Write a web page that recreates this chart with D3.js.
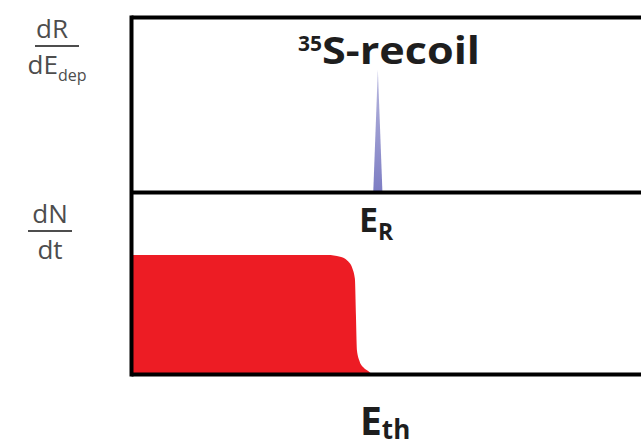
<!DOCTYPE html>
<html lang="en">
<head>
    <meta charset="UTF-8">
    <title>35S recoil spectrum</title>
    <script src="https://d3js.org/d3.v7.min.js"></script>
    <style>
        body { margin: 0; background: #fff; }
        .frame path { stroke: #000; stroke-width: 4; }
        .frac { font-family: "Open Sans", sans-serif; fill: #4d4d4d; }
        .lbl { font-family: "Open Sans", sans-serif; font-weight: bold; fill: #1e1e1e; }
    </style>
</head>
<body>
    <div id="chart"></div>

    <script>
        // energy axis runs 0..100 (arbitrary units)
        var eDomain = [0, 100];

        // recoil line (top panel): energy, dR/dE
        var spikeE = [47.5, 48.4, 49.3];
        var spikeR = [0, 0.70, 0];

        // threshold scan (bottom panel): threshold energy, dN/dt
        var scanE = [0, 38.5, 41.0, 42.5, 43.4, 43.9, 44.1, 44.3, 44.8, 45.6, 46.5, 47.2];
        var scanN = [1.0, 1.0, 0.985, 0.95, 0.89, 0.80, 0.50, 0.20, 0.11, 0.055, 0.025, 0];

        var width = 641, height = 448;
        var left = 131, right = 641;
        var topY = 17, midY = 192, botY = 374;

        var svg = d3.select("#chart").append("svg")
                    .attr("width", width)
                    .attr("height", height);

        var x = d3.scaleLinear().domain(eDomain).range([left, right]);
        var yTop = d3.scaleLinear().domain([0, 1]).range([midY, topY]);
        var yBot = d3.scaleLinear().domain([0, 1.53]).range([botY, midY]);

        // gradient for the spike
        var grad = svg.append("defs").append("linearGradient")
                      .attr("id", "spikeGrad")
                      .attr("x1", 0).attr("y1", 1).attr("x2", 0).attr("y2", 0);
        grad.append("stop").attr("offset", "0%").attr("stop-color", "#7d7dc3");
        grad.append("stop").attr("offset", "100%").attr("stop-color", "#b9b9df");

        var scan = scanE.map(function(d, i) { return [d, scanN[i]]; });
        svg.append("path")
           .datum(scan)
           .attr("fill", "#ed1c24")
           .attr("d", d3.area()
                .x(function(d) { return x(d[0]); })
                .y0(yBot(0))
                .y1(function(d) { return yBot(d[1]); })
                .curve(d3.curveMonotoneX));

        var spike = spikeE.map(function(d, i) { return [d, spikeR[i]]; });
        svg.append("path")
           .datum(spike)
           .attr("fill", "url(#spikeGrad)")
           .attr("d", d3.area()
                .x(function(d) { return x(d[0]); })
                .y0(yTop(0))
                .y1(function(d) { return yTop(d[1]); }));

        // frame: axes without ticks
        svg.append("g").attr("class", "frame")
           .attr("transform", "translate(0," + topY + ")")
           .call(d3.axisTop(x).ticks(0).tickSizeOuter(0));
        svg.append("g").attr("class", "frame")
           .attr("transform", "translate(0," + midY + ")")
           .call(d3.axisBottom(x).ticks(0).tickSizeOuter(0));
        svg.append("g").attr("class", "frame")
           .attr("transform", "translate(0," + botY + ")")
           .call(d3.axisBottom(x).ticks(0).tickSizeOuter(0));
        svg.append("g").attr("class", "frame")
           .attr("transform", "translate(" + left + ",0)")
           .call(d3.axisLeft(d3.scaleLinear().range([botY + 2, topY - 2])).ticks(0).tickSizeOuter(0));

        // y labels as fractions
        function fraction(cx, yBar, num, den, sub, dx) {
            var g = svg.append("g").attr("class", "frac");
            g.append("text").attr("x", cx - (dx || 0)).attr("y", yBar - 8)
             .attr("text-anchor", "middle").attr("font-size", 26).text(num);
            g.append("line").attr("x1", cx - 22).attr("x2", cx + 22)
             .attr("y1", yBar).attr("y2", yBar)
             .attr("stroke", "#4d4d4d").attr("stroke-width", 2);
            var t = g.append("text").attr("x", cx).attr("y", yBar + 28)
                     .attr("text-anchor", "middle").attr("font-size", 26);
            t.append("tspan").text(den);
            if (sub) t.append("tspan").attr("font-size", 16).attr("dy", 7).text(sub);
        }
        fraction(57, 46, "dR", "dE", "dep", 5);
        fraction(50, 231, "dN", "dt", null, 0);

        // title
        var title = svg.append("text").attr("class", "lbl")
                       .attr("x", 298).attr("y", 64);
        title.append("tspan").attr("font-size", 21).attr("dy", -13).text("35");
        title.append("tspan").attr("font-size", 38).attr("dy", 13)
             .attr("textLength", 158).attr("lengthAdjust", "spacingAndGlyphs").text("S-recoil");

        var er = svg.append("text").attr("class", "lbl").attr("x", 359).attr("y", 232);
        er.append("tspan").attr("font-size", 34).text("E");
        er.append("tspan").attr("font-size", 23).attr("dy", 8).text("R");

        var eth = svg.append("text").attr("class", "lbl").attr("x", 360).attr("y", 435);
        eth.append("tspan").attr("font-size", 39).text("E");
        eth.append("tspan").attr("font-size", 26).attr("dy", 4).text("th");
    </script>
</body>
</html>
